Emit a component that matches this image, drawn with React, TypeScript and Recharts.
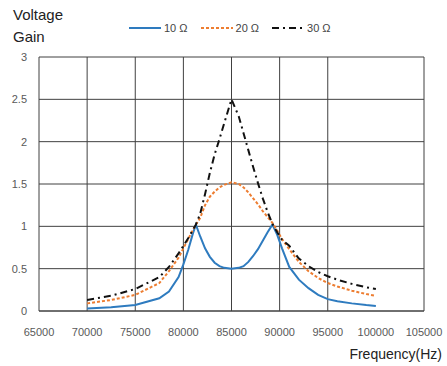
import React from "react";
import { LineChart, Line, XAxis, YAxis, CartesianGrid } from "recharts";

const freqs = [
  70000, 72500, 75000, 77500, 78500, 79500, 80000, 80500, 81000, 81300, 81750,
  82250, 82750, 83250, 83750, 84250, 85000, 85750, 86250, 86750, 87250, 87750,
  88250, 88750, 89250, 89750, 90250, 91000, 92000, 93000, 94000, 95000, 96000,
  97500, 99000, 100000,
];

const gain10 = [
  0.03, 0.045, 0.07, 0.15, 0.23, 0.4, 0.55, 0.72, 0.92, 1.02, 0.88, 0.74, 0.64,
  0.57, 0.53, 0.51, 0.5, 0.51, 0.53, 0.58, 0.65, 0.73, 0.83, 0.93, 1.02, 0.9,
  0.74, 0.52, 0.37, 0.27, 0.19, 0.14, 0.115, 0.09, 0.07, 0.06,
];

const gain20 = [
  0.09, 0.13, 0.19, 0.33, 0.47, 0.63, 0.74, 0.85, 0.96, 1.02, 1.1, 1.25, 1.35,
  1.41, 1.46, 1.49, 1.52, 1.5, 1.46, 1.4, 1.33, 1.26, 1.18, 1.11, 1.04, 0.95,
  0.85, 0.73, 0.58, 0.47, 0.39, 0.33, 0.29, 0.24, 0.2, 0.18,
];

const gain30 = [
  0.13, 0.18, 0.26, 0.4, 0.52, 0.68, 0.77, 0.86, 0.96, 1.02, 1.15, 1.38, 1.63,
  1.85, 2.03, 2.22, 2.5, 2.3, 2.1, 1.9, 1.7, 1.51, 1.33, 1.17, 1.03, 0.93,
  0.84, 0.77, 0.62, 0.53, 0.46, 0.41, 0.37, 0.32, 0.28, 0.26,
];

const xTicks = [65000, 70000, 75000, 80000, 85000, 90000, 95000, 100000, 105000];
const yTicks = [0, 0.5, 1, 1.5, 2, 2.5, 3];

const seriesNames = ["10 Ω", "20 Ω", "30 Ω"];

const data = freqs.map((f, i) => ({
  f,
  g10: gain10[i],
  g20: gain20[i],
  g30: gain30[i],
}));

const font = "'Liberation Sans', Arial, sans-serif";

const LegendItem = ({ color, dash, label }: any) => (
  <div style={{ display: "flex", alignItems: "center", marginRight: 12 }}>
    <svg width={34} height={6}>
      <line x1={1} y1={3} x2={33} y2={3} stroke={color} strokeWidth={2} strokeDasharray={dash} />
    </svg>
    <span style={{ fontSize: 11, color: "#444", marginLeft: 2 }}>{label}</span>
  </div>
);

const App = () => {
  return (
    <div
      style={{
        position: "absolute",
        left: 0,
        top: 0,
        width: 447,
        height: 366,
        background: "#fff",
        fontFamily: font,
      }}
    >
      <LineChart
        width={447}
        height={366}
        data={data}
        margin={{ top: 57, right: 23, bottom: 25, left: 0 }}
      >
        <CartesianGrid stroke="#404040" strokeWidth={1} />
        <XAxis
          dataKey="f"
          type="number"
          domain={[65000, 105000]}
          ticks={xTicks}
          height={30}
          tickSize={0}
          tickMargin={17}
          axisLine={{ stroke: "#404040" }}
          tick={{ fill: "#595959", fontSize: 11, fontFamily: font }}
        />
        <YAxis
          type="number"
          domain={[0, 3]}
          ticks={yTicks}
          width={39}
          tickSize={0}
          tickMargin={12}
          axisLine={false}
          tick={{ fill: "#595959", fontSize: 11, fontFamily: font }}
        />
        <Line
          dataKey="g10"
          name={seriesNames[0]}
          type="linear"
          stroke="#2e7bbf"
          strokeWidth={2}
          dot={false}
          isAnimationActive={false}
        />
        <Line
          dataKey="g20"
          name={seriesNames[1]}
          type="linear"
          stroke="#ed7d31"
          strokeWidth={2}
          strokeDasharray="3 2"
          dot={false}
          isAnimationActive={false}
        />
        <Line
          dataKey="g30"
          name={seriesNames[2]}
          type="linear"
          stroke="#111"
          strokeWidth={2}
          strokeDasharray="7 4 2 4"
          dot={false}
          isAnimationActive={false}
        />
      </LineChart>

      <div
        style={{
          position: "absolute",
          left: 13,
          top: 4,
          fontSize: 15,
          lineHeight: "22px",
          color: "#222",
        }}
      >
        Voltage
        <br />
        Gain
      </div>

      <div
        style={{
          position: "absolute",
          left: 128,
          top: 22,
          display: "flex",
          alignItems: "center",
        }}
      >
        <LegendItem color="#2e7bbf" label={seriesNames[0]} />
        <LegendItem color="#ed7d31" dash="3 2" label={seriesNames[1]} />
        <LegendItem color="#111" dash="7 4 2 4" label={seriesNames[2]} />
      </div>

      <div
        style={{
          position: "absolute",
          right: 5,
          top: 346,
          fontSize: 14,
          color: "#222",
        }}
      >
        Frequency(Hz)
      </div>
    </div>
  );
};

export default App;
